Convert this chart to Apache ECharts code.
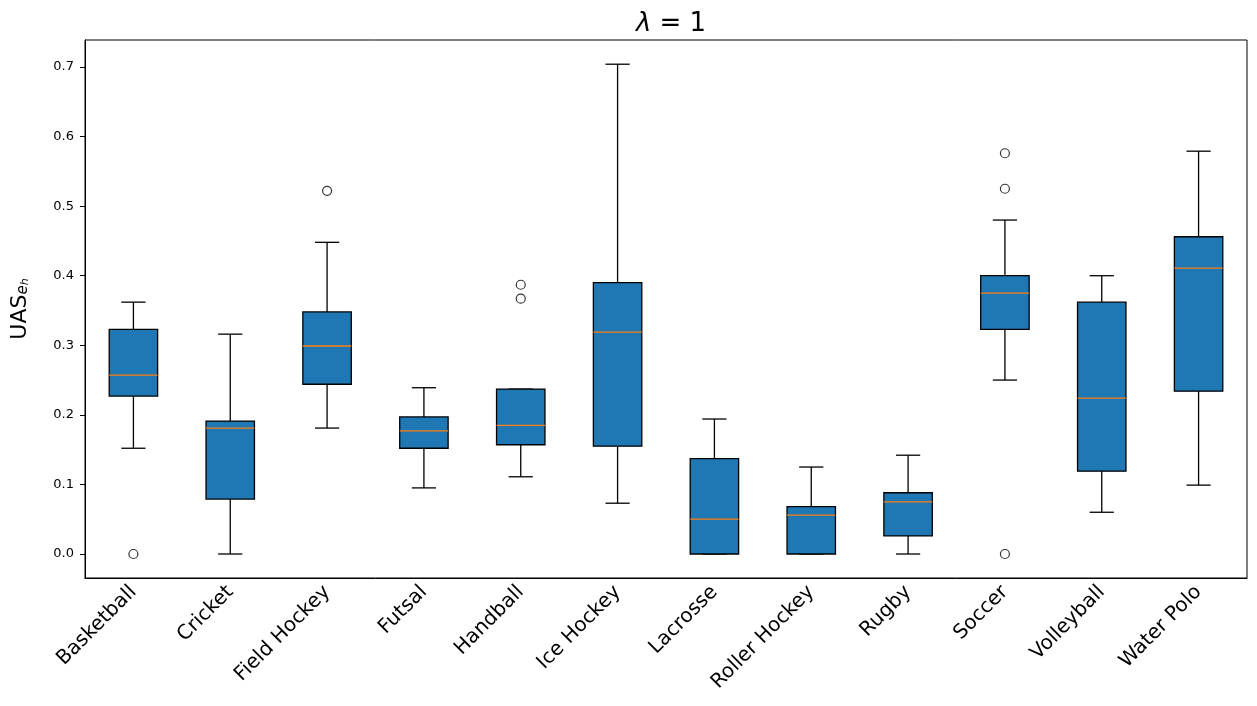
<!DOCTYPE html>
<html><head><meta charset="utf-8">
<script src="https://cdn.jsdelivr.net/npm/echarts@6/dist/echarts.min.js"></script>
<style>html,body{margin:0;padding:0;background:#fff}#c{width:1257px;height:706px}</style>
</head><body><div id="c"></div>
<script>
const categories = ["Basketball","Cricket","Field Hockey","Futsal","Handball","Ice Hockey","Lacrosse","Roller Hockey","Rugby","Soccer","Volleyball","Water Polo"];
const whiskerLow  = [0.152, 0.000, 0.181, 0.095, 0.111, 0.073, 0.000, 0.000, 0.000, 0.250, 0.060, 0.099];
const q1          = [0.227, 0.079, 0.244, 0.152, 0.157, 0.155, 0.000, 0.000, 0.026, 0.323, 0.119, 0.234];
const medians     = [0.257, 0.181, 0.299, 0.177, 0.185, 0.319, 0.050, 0.056, 0.075, 0.375, 0.224, 0.411];
const q3          = [0.323, 0.191, 0.348, 0.197, 0.237, 0.390, 0.137, 0.068, 0.088, 0.400, 0.362, 0.456];
const whiskerHigh = [0.362, 0.316, 0.448, 0.239, 0.237, 0.704, 0.194, 0.125, 0.142, 0.480, 0.400, 0.579];
const outliers = [["Basketball",0.0],["Field Hockey",0.522],["Handball",0.387],["Handball",0.367],["Soccer",0.576],["Soccer",0.525],["Soccer",0.0]];
const yTicks = [0.0,0.1,0.2,0.3,0.4,0.5,0.6,0.7];

const boxData = categories.map((c,i)=>[i, whiskerLow[i], q1[i], medians[i], q3[i], whiskerHigh[i]]);

function renderBox(params, api){
  const i = api.value(0);
  const lo = api.coord([i, api.value(1)]);
  const b1 = api.coord([i, api.value(2)]);
  const md = api.coord([i, api.value(3)]);
  const b3 = api.coord([i, api.value(4)]);
  const hi = api.coord([i, api.value(5)]);
  const band = api.size([1,0])[0];
  const w = band*0.5, cw = band*0.25;
  const x = lo[0];
  const black = {stroke:'#000', lineWidth:1.3};
  return {type:'group', children:[
    {type:'line', shape:{x1:x,y1:lo[1],x2:x,y2:b1[1]}, style:black},
    {type:'line', shape:{x1:x,y1:b3[1],x2:x,y2:hi[1]}, style:black},
    {type:'line', shape:{x1:x-cw/2,y1:lo[1],x2:x+cw/2,y2:lo[1]}, style:black},
    {type:'line', shape:{x1:x-cw/2,y1:hi[1],x2:x+cw/2,y2:hi[1]}, style:black},
    {type:'rect', shape:{x:x-w/2,y:b3[1],width:w,height:b1[1]-b3[1]}, style:{fill:'#1f77b4',stroke:'#000',lineWidth:1.3}},
    {type:'line', shape:{x1:x-w/2,y1:md[1],x2:x+w/2,y2:md[1]}, style:{stroke:'#ff7f0e',lineWidth:1.3}}
  ]};
}

const chart = echarts.init(document.getElementById('c'));
chart.setOption({
  animation:false,
  title:{text:'{i|λ} = 1', left:666, textAlign:'center', top:6,
    textStyle:{fontFamily:'DejaVu Sans', fontSize:26, fontWeight:'normal', color:'#000',
      rich:{i:{fontFamily:'DejaVu Sans', fontStyle:'italic', fontSize:26, color:'#000'}}}},
  grid:{left:85, right:10, top:40, bottom:128},
  xAxis:{type:'category', data:categories, boundaryGap:true,
    axisLine:{show:true,onZero:false,lineStyle:{color:'#000'}},
    axisTick:{alignWithLabel:true,length:5,lineStyle:{color:'#000'}},
    axisLabel:{rotate:45, interval:0, fontFamily:'DejaVu Sans', fontSize:20, color:'#000', margin:11},
    splitLine:{show:false}},
  yAxis:{type:'value', min:-0.0345, max:0.7388,
    name:'{m|UAS}{s|e}{ss|h}', nameLocation:'middle', nameGap:54, nameRotate:90,
    nameTextStyle:{rich:{m:{fontFamily:'DejaVu Sans',fontSize:22,color:'#000'},
      s:{fontFamily:'DejaVu Sans',fontSize:15,fontStyle:'italic',color:'#000',verticalAlign:'bottom'},
      ss:{fontFamily:'DejaVu Sans',fontSize:11,fontStyle:'italic',color:'#000',verticalAlign:'bottom'}}},
    axisLine:{show:true,lineStyle:{color:'#000'}},
    axisTick:{show:true,length:5,customValues:yTicks,lineStyle:{color:'#000'}},
    axisLabel:{customValues:yTicks, formatter:v=>v.toFixed(1), fontFamily:'DejaVu Sans', fontSize:13, color:'#000', margin:11},
    splitLine:{show:false}},
  series:[
    {type:'custom', data:boxData, renderItem:renderBox, encode:{x:0,y:[1,2,3,4,5]}, z:2},
    {type:'scatter', data:outliers, symbol:'circle', symbolSize:9,
      itemStyle:{color:'rgba(0,0,0,0)', borderColor:'#000', borderWidth:1.2}, z:3}
  ],
  graphic:[{type:'rect', shape:{x:85,y:40,width:1162,height:538}, style:{fill:'none',stroke:'#000',lineWidth:1}, silent:true, z:0}]
});
</script></body></html>
